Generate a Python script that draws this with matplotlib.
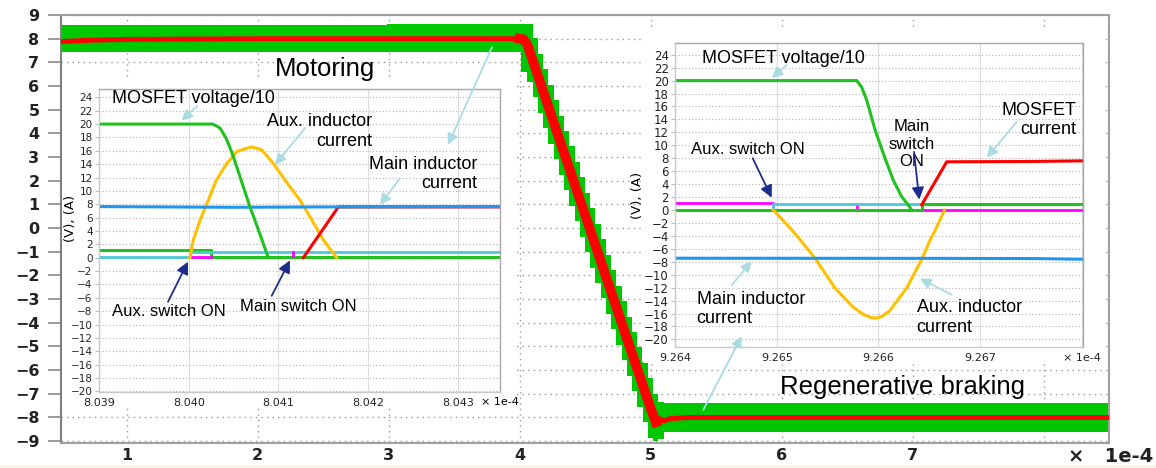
import matplotlib.pyplot as plt
from matplotlib.patches import Rectangle

plt.rcParams['font.family'] = ['Liberation Sans', 'DejaVu Sans']

# ---- main waveform, time in 1e-4 s ----
red_t = [0.5, 0.7, 1.0, 2.0, 3.0, 4.0, 4.03, 4.06, 5.0, 5.04, 5.07, 5.1, 5.15, 5.3, 6.0, 7.0, 8.5]
red_v = [7.88, 7.93, 7.97, 8.0, 8.0, 8.0, 7.97, 7.75, -7.6, -8.2, -8.05, -8.15, -8.05, -8.0, -8.0, -8.0, -8.0]

band_t = [0.5, 2.0, 3.98, 4.04, 4.08, 4.12, 4.16, 4.20, 4.24, 4.28, 4.32, 4.36, 4.40, 4.44,
          4.48, 4.52, 4.56, 4.60, 4.64, 4.68, 4.72, 4.76, 4.80, 4.84, 4.88, 4.92, 4.96,
          5.00, 5.04, 5.08, 5.12, 6.5, 8.5]
band_hi = [8.56, 8.57, 8.6, 8.6, 8.6, 8.02, 7.37, 6.71, 6.06, 5.41, 4.75, 4.10, 3.45, 2.79,
           2.14, 1.49, 0.83, 0.18, -0.47, -1.12, -1.78, -2.43, -3.08, -3.74, -4.39, -5.04, -5.70,
           -6.35, -7.0, -7.35, -7.4, -7.4, -7.4]
band_lo = [7.42, 7.42, 7.45, 6.6, 6.17, 5.52, 4.87, 4.21, 3.56, 2.91, 2.25, 1.60, 0.95, 0.29,
           -0.36, -1.01, -1.67, -2.32, -2.97, -3.62, -4.28, -4.93, -5.58, -6.24, -6.89, -7.54, -8.20,
           -8.85, -9.0, -8.9, -8.6, -8.6, -8.6]

# ---- motoring inset (x in 1e-4 s) ----
mot_volt_t = [8.039, 8.040271, 8.040349, 8.040416, 8.040483, 8.040572, 8.040683, 8.040795, 8.040887]
mot_volt_v = [20, 20, 19.4, 17.9, 15.7, 12.1, 7.6, 3.5, 0.0]
mot_aux_t = [8.040014, 8.040051, 8.040126, 8.040219, 8.040304, 8.040424, 8.040538, 8.040702,
             8.040817, 8.040943, 8.041085, 8.041241, 8.041375, 8.041501, 8.04165]
mot_aux_i = [0, 2.65, 5.6, 8.6, 11.5, 14.1, 15.9, 16.6, 16.1, 14.1, 11.4, 8.6, 5.6, 2.65, 0]
mot_main_t = [8.039, 8.0405, 8.0415, 8.0435]
mot_main_i = [7.65, 7.55, 7.6, 7.65]
mot_fet_t = [8.041278, 8.041668, 8.0435]
mot_fet_i = [0.0, 7.6, 7.6]
mot_gate_t = [8.039, 8.040245, 8.040245, 8.0435]
mot_gate_v = [1.2, 1.2, 0.05, 0.05]
mot_cyan_t = [8.039, 8.040014, 8.040014, 8.0435]
mot_cyan_v = [0.1, 0.1, 0.9, 0.9]
mot_mag_t = [8.040014, 8.040245]
mot_mag_v = [0.15, 0.15]
mot_blip_t = [8.041159, 8.041159]
mot_blip_v = [0.3, 0.9]

# ---- regenerative braking inset ----
reg_volt_t = [9.264, 9.265787, 9.265835, 9.265885, 9.265967, 9.266065, 9.266147, 9.266229, 9.266294, 9.266327]
reg_volt_v = [20, 20, 19, 17, 12.4, 8.0, 4.6, 2.06, 0.77, 0.0]
reg_aux_t = [9.264967, 9.26505, 9.26515, 9.26523, 9.26538, 9.26557, 9.26575, 9.26585, 9.26592,
             9.26597, 9.26603, 9.26611, 9.26628, 9.26643, 9.26651, 9.26656, 9.26665]
reg_aux_i = [0, -1.4, -3.1, -4.6, -7.5, -12.0, -15.0, -16.1, -16.6, -16.7, -16.5, -15.6,
             -12.0, -7.5, -4.6, -3.1, 0]
reg_main_t = [9.264, 9.2665, 9.2675, 9.268]
reg_main_i = [-7.45, -7.47, -7.5, -7.6]
reg_fet_t = [9.266426, 9.266672, 9.2675, 9.268]
reg_fet_i = [0.8, 7.45, 7.5, 7.6]
reg_gate_t = [9.264, 9.266426, 9.266426, 9.268]
reg_gate_v = [0.05, 0.05, 1.0, 1.0]
reg_cyan_t = [9.264967, 9.264967, 9.266426, 9.266426]
reg_cyan_v = [0.0, 1.0, 1.0, 0.0]
reg_mag_t = [9.264, 9.264967, 9.264967, 9.268]
reg_mag_v = [1.05, 1.05, 0.05, 0.05]
reg_blip_t = [9.265793, 9.265793]
reg_blip_v = [0.3, 0.8]

GREEN = '#1fc21f'
YELLOW = '#ffc000'
BLUE = '#1e96f0'
CYAN = '#4cc8d6'
MAGENTA = '#ff00ff'
LIGHT = dict(arrowstyle='-|>', color='#a9dbe3', lw=1.3, mutation_scale=16, shrinkA=0, shrinkB=0)
DARK = dict(arrowstyle='-|>', color='#1d2d8e', lw=1.3, mutation_scale=18, shrinkA=0, shrinkB=0)

W, H = 1156, 468
fig = plt.figure(figsize=(W / 100, H / 100), dpi=100)


def box(l, t, r, b):
    return [l / W, 1 - b / H, (r - l) / W, (b - t) / H]


# main axes
ax = fig.add_axes(box(61, 15, 1109, 443))
ax.fill_between(band_t, band_lo, band_hi, step='mid', color='#00c800', lw=0, zorder=2)
ax.plot(red_t, red_v, color='red', lw=3.5, zorder=3, solid_joinstyle='round')
ax.plot(red_t[5:10], red_v[5:10], color='red', lw=7.0, zorder=3, solid_joinstyle='round')
ax.set_xlim(0.5, 8.5)
ax.set_ylim(-9.08, 9.0)
ax.set_xticks(range(1, 9))
ax.set_xticklabels(['1', '2', '3', '4', '5', '6', '7', ''])
ax.set_yticks(range(-9, 10))
ax.grid(True, color='#9a9a9a', ls=(0, (1, 3)), lw=1)
ax.tick_params(axis='y', direction='out', length=9.5, width=1.2, color='#8a8a8a', pad=6,
               labelsize=11.5, labelcolor='#222222')
ax.tick_params(axis='x', length=0, pad=3.5, labelsize=11.5, labelcolor='#222222')
for lab in ax.get_xticklabels() + ax.get_yticklabels():
    lab.set_family('DejaVu Sans')
    lab.set_weight('bold')
for s in ax.spines.values():
    s.set_color('#a0a0a0')
    s.set_linewidth(1.5)
ax.spines['left'].set_color('#808080')

fig.text(1153 / W, 1 - 457 / H, '×   1e-4', ha='right', va='center', fontsize=14,
         family='DejaVu Sans', weight='bold', color='#222222')
fig.text(275 / W, 1 - 69 / H, 'Motoring', ha='left', va='center', fontsize=18.5)
fig.text(780 / W, 1 - 387 / H, 'Regenerative braking', ha='left', va='center', fontsize=18.5)

# white panels behind the insets
for l, t, r, b in [(62, 80, 517, 406), (642, 28, 1105, 362)]:
    fig.add_artist(Rectangle((l / W, 1 - b / H), (r - l) / W, (b - t) / H,
                             transform=fig.transFigure, facecolor='white', edgecolor='none', zorder=1))
fig.add_artist(Rectangle((0, 0), 1, 3 / H, transform=fig.transFigure,
                         facecolor='#fcf4de', edgecolor='none', zorder=1))


def style_inset(a, ysize):
    a.set_yticks(range(-20, 25, 2))
    a.grid(axis='y', color='#b5b5b5', ls=(0, (1, 2)), lw=0.8)
    a.grid(axis='x', color='#dcdcdc', ls='-', lw=0.8)
    a.tick_params(axis='y', length=3, color='#bbbbbb', pad=1.5, labelsize=ysize, labelcolor='#222222')
    a.tick_params(axis='x', length=0, pad=4, labelsize=8, labelcolor='#222222')
    for lab in a.get_xticklabels() + a.get_yticklabels():
        lab.set_family('DejaVu Sans')
    for s in a.spines.values():
        s.set_color('#c8c8c8')
        s.set_linewidth(1.0)
    a.spines['top'].set_color('#a8a8a8')
    a.spines['right'].set_color('#a8a8a8')


# motoring inset
axl = fig.add_axes(box(99, 89, 500, 392), zorder=2)
axl.plot(mot_gate_t, mot_gate_v, color=GREEN, lw=2.2)
axl.plot(mot_cyan_t, mot_cyan_v, color=CYAN, lw=2.0)
axl.plot(mot_mag_t, mot_mag_v, color=MAGENTA, lw=2.0)
axl.plot(mot_blip_t, mot_blip_v, color=MAGENTA, lw=2.0)
axl.plot(mot_aux_t, mot_aux_i, color=YELLOW, lw=2.2)
axl.plot(mot_fet_t, mot_fet_i, color='red', lw=2.2)
axl.plot(mot_main_t, mot_main_i, color=BLUE, lw=2.2)
axl.plot(mot_volt_t, mot_volt_v, color=GREEN, lw=2.2)
axl.set_xlim(8.039, 8.04347)
axl.set_ylim(-20.1, 25.25)
axl.set_xticks([8.039, 8.040, 8.041, 8.042, 8.043])
axl.set_xticklabels(['8.039', '8.040', '8.041', '8.042', '8.043'])
style_inset(axl, 7.5)
axl.annotate('× 1e-4', xy=(8.043, 0), xycoords=('data', 'axes fraction'), xytext=(17, -7.2),
             textcoords='offset points', ha='left', va='center', fontsize=8, family='DejaVu Sans')
axl.text(-0.072, 0.574, '(V), (A)', rotation=90, transform=axl.transAxes, ha='center', va='center',
         fontsize=9.5, family='DejaVu Sans')

axl.text(8.039145, 23.9, 'MOSFET voltage/10', fontsize=13, ha='left', va='center')
axl.annotate('', xy=(8.03992, 20.5), xytext=(8.040093, 22.7), arrowprops=LIGHT)
axl.text(8.042043, 18.86, 'Aux. inductor\ncurrent', fontsize=13, ha='right', va='center', multialignment='right')
axl.annotate('', xy=(8.040962, 13.9), xytext=(8.041297, 19.4), arrowprops=LIGHT)
axl.text(8.043214, 12.53, 'Main inductor\ncurrent', fontsize=13, ha='right', va='center', multialignment='right')
axl.annotate('', xy=(8.042133, 7.9), xytext=(8.042356, 11.9), arrowprops=LIGHT)
axl.annotate('', xy=(8.042891, 16.9), xytext=(8.043381, 31.5), arrowprops=LIGHT, annotation_clip=False)
axl.text(8.039145, -8.08, 'Aux. switch ON', fontsize=12, ha='left', va='center')
axl.annotate('', xy=(8.039992, -0.6), xytext=(8.039769, -6.6), arrowprops=DARK)
axl.text(8.040572, -7.23, 'Main switch ON', fontsize=12, ha='left', va='center')
axl.annotate('', xy=(8.041129, -0.4), xytext=(8.040925, -5.7), arrowprops=DARK)

# regenerative braking inset
axr = fig.add_axes(box(675, 43, 1083, 347), zorder=2)
axr.plot(reg_mag_t, reg_mag_v, color=MAGENTA, lw=2.0)
axr.plot(reg_blip_t, reg_blip_v, color=MAGENTA, lw=2.0)
axr.plot(reg_cyan_t, reg_cyan_v, color=CYAN, lw=2.0)
axr.plot(reg_gate_t, reg_gate_v, color=GREEN, lw=2.2)
axr.plot(reg_aux_t, reg_aux_i, color=YELLOW, lw=2.2)
axr.plot(reg_main_t, reg_main_i, color=BLUE, lw=2.2)
axr.plot(reg_fet_t, reg_fet_i, color='red', lw=2.2)
axr.plot(reg_volt_t, reg_volt_v, color=GREEN, lw=2.2)
axr.set_xlim(9.264, 9.268012)
axr.set_ylim(-21.17, 25.81)
axr.set_xticks([9.264, 9.265, 9.266, 9.267, 9.268])
axr.set_xticklabels(['9.264', '9.265', '9.266', '9.267', '× 1e-4'])
style_inset(axr, 8.5)
axr.text(-0.093, 0.5, '(V), (A)', rotation=90, transform=axr.transAxes, ha='center', va='center',
         fontsize=9.5, family='DejaVu Sans')

axr.text(9.264263, 23.45, 'MOSFET voltage/10', fontsize=13, ha='left', va='center')
axr.annotate('', xy=(9.264951, 20.4), xytext=(9.265098, 22.4), arrowprops=LIGHT)
axr.text(9.267943, 13.91, 'MOSFET\ncurrent', fontsize=13, ha='right', va='center', multialignment='right')
axr.annotate('', xy=(9.267065, 8.1), xytext=(9.26736, 13.6), arrowprops=LIGHT)
axr.text(9.26633, 10.2, 'Main\nswitch\nON', fontsize=12, ha='center', va='center', multialignment='center')
axr.annotate('', xy=(9.266402, 1.6), xytext=(9.26635, 9.0), arrowprops=DARK)
axr.text(9.264157, 9.38, 'Aux. switch ON', fontsize=12, ha='left', va='center')
axr.annotate('', xy=(9.264951, 1.9), xytext=(9.264764, 8.0), arrowprops=DARK)
axr.text(9.264213, -15.3, 'Main inductor\ncurrent', fontsize=13, ha='left', va='center')
axr.annotate('', xy=(9.264754, -7.9), xytext=(9.264558, -11.6), arrowprops=LIGHT)
axr.annotate('', xy=(9.264656, -19.5), xytext=(9.264278, -30.9), arrowprops=LIGHT, annotation_clip=False)
axr.text(9.266377, -16.62, 'Aux. inductor\ncurrent', fontsize=13, ha='left', va='center')
axr.annotate('', xy=(9.266409, -10.6), xytext=(9.266721, -13.1), arrowprops=LIGHT)

fig.savefig('out.png', dpi=100)
